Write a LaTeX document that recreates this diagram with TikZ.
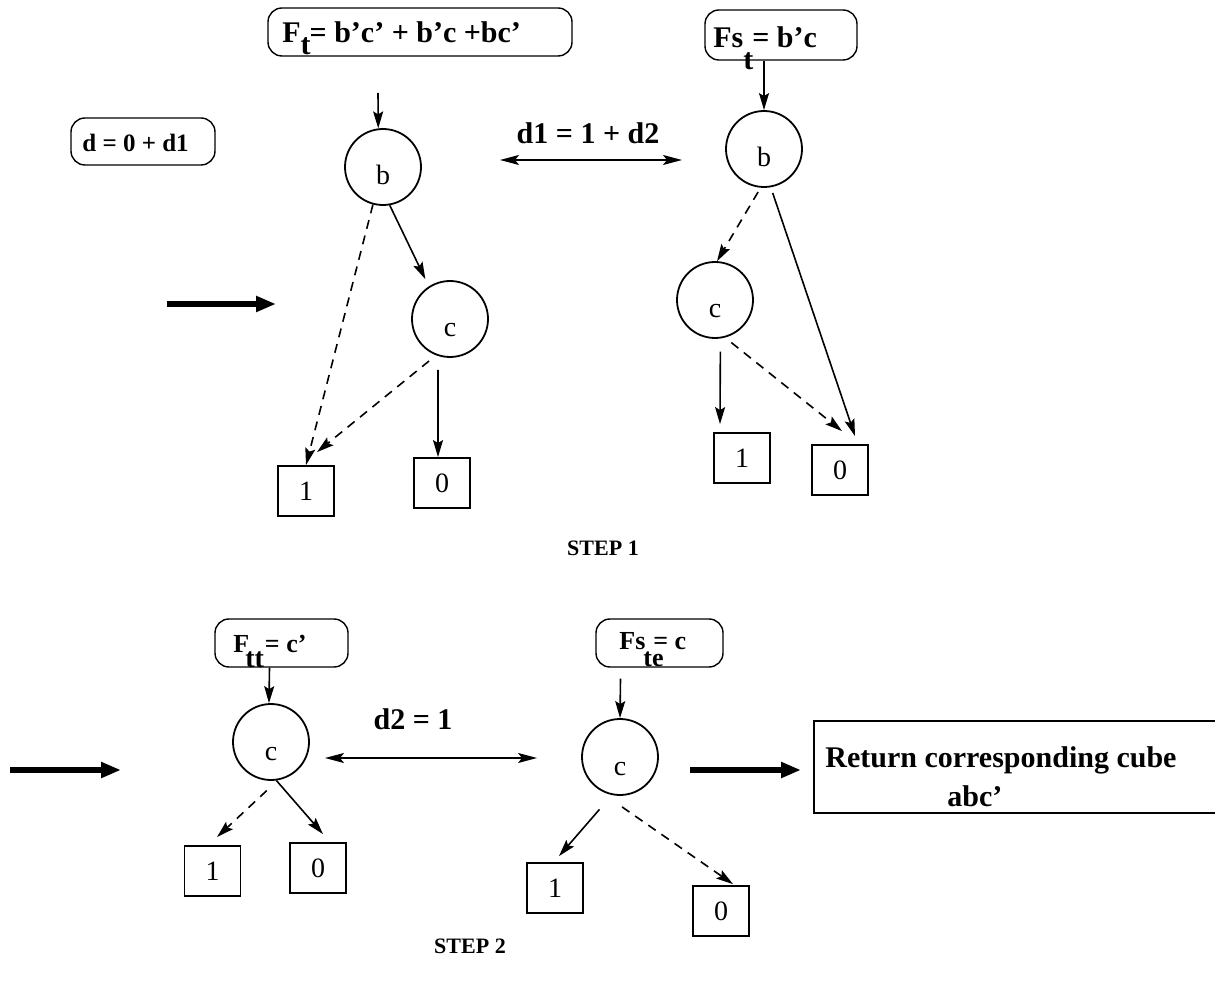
\documentclass[tikz,border=0pt]{standalone}
\usepackage{fontspec}
\setmainfont{Liberation Serif}
\usetikzlibrary{arrows.meta}

\begin{document}
\begin{tikzpicture}[x=0.5pt,y=-0.5pt,
  lbl/.style={font=\bfseries\fontsize{15}{18}\selectfont, inner sep=0pt},
  small lbl/.style={font=\bfseries\fontsize{12.5}{15}\selectfont, inner sep=0pt},
  fn lbl/.style={font=\bfseries\fontsize{13}{15}\selectfont, inner sep=0pt},
  steplbl/.style={font=\bfseries\fontsize{11}{13}\selectfont, inner sep=0pt},
  fbox/.style={draw, rounded corners=7pt, line width=0.7pt, inner sep=0pt},
  vnode/.style={circle, draw, line width=0.9pt, minimum size=38pt, inner sep=0pt,
    text height=18pt, text depth=0pt, font=\fontsize{14}{14}\selectfont},
  leaf/.style={rectangle, draw, line width=0.9pt, minimum width=28pt, minimum height=25pt,
    inner sep=0pt, font=\fontsize{14}{14}\selectfont},
  arr/.style={line width=0.8pt, -{Stealth[length=8.5pt,width=5pt,inset=1.5pt]}},
  darr/.style={arr, dash pattern=on 4.5pt off 3.5pt},
  dbl/.style={line width=0.8pt, {Stealth[length=9.5pt,width=5pt,inset=2pt]}-{Stealth[length=9.5pt,width=5pt,inset=2pt]}},
  thick arrow/.style={line width=2.6pt, -{Triangle[length=10pt,width=7.5pt]}},
]
\useasboundingbox (0,0) rectangle (1215,988);
\fill[white] (0,0) rectangle (1215,988);
\clip (0,0) rectangle (1215,988);

% ---------------- STEP 1 ----------------
% function boxes
\node[fbox, minimum width=152pt, minimum height=24pt] (ftbox) at (420,32) {};
\node[lbl, anchor=base west] (fttext) at (282,43)
  {F\raisebox{-6pt}{t}\kern-0.5pt= b'c' + b'c +bc'};
\node[fbox, minimum width=76pt, minimum height=25pt] (fstbox) at (781,35) {};
\node[lbl, anchor=base west] (fsttext) at (713,48)
  {Fs\raisebox{-11pt}{t}\kern-0.5pt= b'c};
\node[fbox, minimum width=72pt, minimum height=23.5pt] (dbox) at (143,141.5) {};
\node[small lbl, anchor=base west] (dtext) at (82,152) {d = 0 + d1};

% left diagram
\node[vnode] (b1) at (383,167) {b};
\node[vnode] (c1) at (450,319) {c};
\node[leaf] (one1) at (306,491) {1};
\node[leaf] (zero1) at (442,483) {0};
\coordinate (in1) at (378,93);
\draw[arr] (in1) -- (b1.97);
\draw[darr] (b1.-105) -- (one1.north);
\draw[arr, shorten >=4pt] (b1.-80) -- (c1.123);
\draw[darr, shorten <=4.5pt] (c1.-111) -- ([shift={(11,-13)}]one1.north);
\draw[arr, shorten <=7pt] (c1.-108) -- ([shift={(-4,0)}]zero1.north);

% right diagram
\node[vnode] (b2) at (764,149) {b};
\node[vnode] (c2) at (715,300) {c};
\node[leaf] (one2) at (742,458) {1};
\node[leaf] (zero2) at (840,470) {0};
\draw[arr] ([shift={(-17,0)}]fstbox.south) -- (b2.north);
\draw[darr, shorten <=2.5pt] (b2.-95) -- (c2.87);
\draw[arr, shorten <=3pt] (b2.-80) -- ([shift={(15,-8)}]zero2.north);
\draw[arr, shorten <=6.5pt] (c2.-82) -- ([shift={(-22,-8)}]one2.north);
\draw[darr, shorten <=4pt] (c2.-75) -- ([shift={(2,-13)}]zero2.north);

% distance arrow between the two diagrams
\coordinate (d1l) at (500,160);
\coordinate (d1r) at (682,160);
\draw[dbl] (d1l) -- (d1r);
\node[lbl] (d1text) at (588,133) {d1 = 1 + d2};

% step arrow
\coordinate (s1a) at (167,304);
\coordinate (s1b) at (276,304);
\draw[thick arrow] (s1a) -- (s1b);

\node[steplbl] (step1) at (603,548) {STEP 1};

% ---------------- STEP 2 ----------------
\node[fbox, minimum width=66.5pt, minimum height=24pt] (fttbox) at (281.5,643) {};
\node[fn lbl, anchor=base west] (ftttext) at (233,652)
  {F\kern-2pt\raisebox{-7.5pt}{\fontsize{14}{15}\selectfont tt}\kern0.5pt= c'};
\node[fbox, minimum width=63.5pt, minimum height=24pt] (ftebox) at (659.5,643) {};
\node[fn lbl, anchor=base west] (ftetext) at (619,649)
  {Fs\rlap{\kern-1pt\raisebox{-8.5pt}{te}}\kern4pt= c};

% left diagram
\node[vnode] (c3) at (271,742) {c};
\node[leaf] (one3) at (212.5,871) {1};
\node[leaf] (zero3) at (318,868) {0};
\draw[arr] ([shift={(-12,0)}]fttbox.south) -- (c3.93);
\draw[darr, shorten <=7.5pt] (c3.-80) -- ([shift={(4.5,-8)}]one3.north);
\draw[arr] (c3.-82) -- ([shift={(5,-8)}]zero3.north);

% right diagram
\node[vnode] (c4) at (620,757) {c};
\node[leaf] (one4) at (555,888) {1};
\node[leaf] (zero4) at (721,911) {0};
\draw[arr] ([shift={(-39,11)}]ftebox.south) -- (c4.north);
\draw[arr, shorten <=9.5pt] (c4.-102) -- ([shift={(4,-6)}]one4.north);
\draw[darr] ([shift={(2,11)}]c4.south) -- ([shift={(12,-1)}]zero4.north);

% distance arrow
\coordinate (d2l) at (325,758);
\coordinate (d2r) at (537,758);
\draw[dbl] (d2l) -- (d2r);
\node[lbl] (d2text) at (413,719) {d2 = 1};

% step arrows
\coordinate (s2a) at (10,770);
\coordinate (s2b) at (121,770);
\draw[thick arrow] (s2a) -- (s2b);
\coordinate (s3a) at (690,770);
\coordinate (s3b) at (801,770);
\draw[thick arrow] (s3a) -- (s3b);

% result box
\node[draw, line width=0.9pt, anchor=north west, minimum width=220pt, minimum height=46pt,
  inner sep=0pt] (retbox) at (813,720) {};
\node[lbl, anchor=base west] (rettext) at (825,767) {Return corresponding cube};
\node[lbl, anchor=base west] (cubetext) at (947,806) {abc'};

\node[steplbl] (step2) at (470,946) {STEP 2};
\end{tikzpicture}
\end{document}
